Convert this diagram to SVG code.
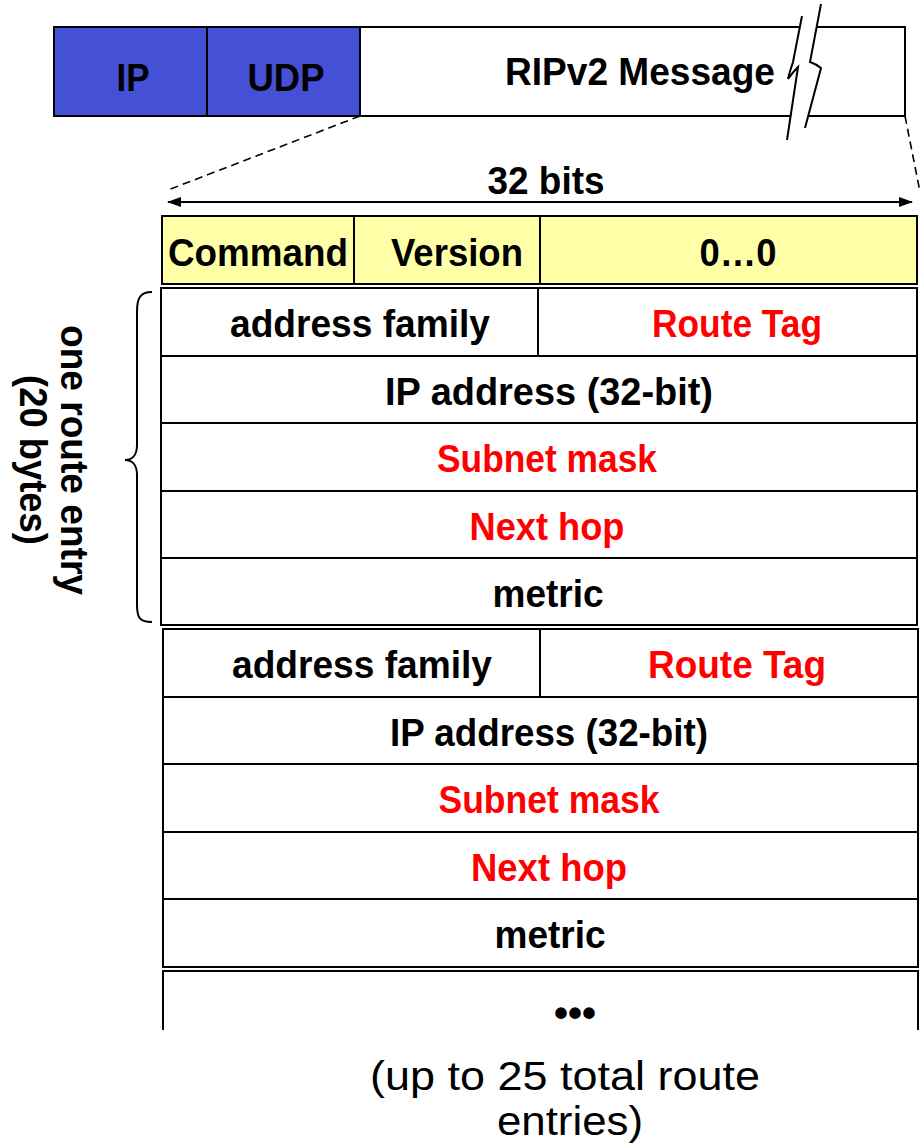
<svg xmlns="http://www.w3.org/2000/svg" width="924" height="1145" viewBox="0 0 924 1145">
<style>
.b{fill:none;stroke:#000;stroke-width:2}
.t{font-family:"Liberation Sans",Arial,sans-serif;font-weight:bold;font-size:38px;text-anchor:middle;fill:#000}
.r{fill:#ff0000}
.n{font-family:"Liberation Sans",Arial,sans-serif;font-size:40px;text-anchor:middle;fill:#000}
.blue{fill:#4450d6;stroke:#000;stroke-width:2}
.yel{fill:#ffffa8;stroke:#000;stroke-width:2}
.dash{fill:none;stroke:#000;stroke-width:1.6;stroke-dasharray:8 5}
</style>
<defs>
<marker id="ah" viewBox="0 0 14 10" refX="13" refY="5" markerWidth="14" markerHeight="10" markerUnits="userSpaceOnUse" orient="auto-start-reverse">
<path d="M0,0 L14,5 L0,10 Z" fill="#000"/>
</marker>
</defs>
<rect width="924" height="1145" fill="#fff"/>

<g id="packet">
<rect x="54" y="27" width="851" height="89" fill="#fff" stroke="#000" stroke-width="2"/>
<rect class="blue" x="54" y="27" width="153" height="89"/>
<rect class="blue" x="207" y="27" width="153" height="89"/>
<text class="t" x="133" y="91" textLength="33" lengthAdjust="spacingAndGlyphs">IP</text>
<text class="t" x="286" y="91" textLength="77" lengthAdjust="spacingAndGlyphs">UDP</text>
<text class="t" x="640" y="85" textLength="270" lengthAdjust="spacingAndGlyphs">RIPv2 Message</text>
</g>

<g id="break">
<path d="M802,16 L793,62 Q789,74 788,79 Q793,72 798,67 L787,140 L805,128 L821,68 Q816,64 810,62 L821,4 Z" fill="#fff"/>
<path class="b" d="M802,16 L793,62 Q789,74 788,79 Q793,72 798,67 L787,140" stroke-width="1.8"/>
<path class="b" d="M821,4 L810,62 Q816,64 821,68 L805,128" stroke-width="1.8"/>
</g>

<g id="connectors">
<line class="dash" x1="360" y1="116" x2="168" y2="190"/>
<line class="dash" x1="905" y1="116" x2="920" y2="192"/>
<line x1="168" y1="202" x2="912" y2="202" stroke="#000" stroke-width="2" marker-start="url(#ah)" marker-end="url(#ah)"/>
</g>
<text class="t" x="546" y="194" textLength="117" lengthAdjust="spacingAndGlyphs">32 bits</text>

<g id="header">
<rect class="yel" x="162" y="216" width="755" height="68"/>
<line class="b" x1="354" y1="216" x2="354" y2="284"/>
<line class="b" x1="540" y1="216" x2="540" y2="284"/>
<text class="t" x="258" y="266" textLength="180" lengthAdjust="spacingAndGlyphs">Command</text>
<text class="t" x="457" y="266" textLength="132" lengthAdjust="spacingAndGlyphs">Version</text>
<text class="t" x="738" y="266" textLength="77" lengthAdjust="spacingAndGlyphs">0…0</text>
</g>

<g id="entry1">
<rect class="b" x="161" y="288" width="756" height="337"/>
<line class="b" x1="161" y1="356" x2="917" y2="356"/>
<line class="b" x1="161" y1="423" x2="917" y2="423"/>
<line class="b" x1="161" y1="491" x2="917" y2="491"/>
<line class="b" x1="161" y1="558" x2="917" y2="558"/>
<line class="b" x1="538" y1="288" x2="538" y2="356"/>
<text class="t" x="360" y="337" textLength="260" lengthAdjust="spacingAndGlyphs">address family</text>
<text class="t r" x="737" y="337" textLength="170" lengthAdjust="spacingAndGlyphs">Route Tag</text>
<text class="t" x="549" y="405" textLength="328" lengthAdjust="spacingAndGlyphs">IP address (32-bit)</text>
<text class="t r" x="547" y="472" textLength="220" lengthAdjust="spacingAndGlyphs">Subnet mask</text>
<text class="t r" x="547" y="540" textLength="155" lengthAdjust="spacingAndGlyphs">Next hop</text>
<text class="t" x="548" y="607" textLength="111" lengthAdjust="spacingAndGlyphs">metric</text>
</g>

<g id="entry2">
<rect class="b" x="163" y="629" width="755" height="338"/>
<line class="b" x1="163" y1="697" x2="918" y2="697"/>
<line class="b" x1="163" y1="764" x2="918" y2="764"/>
<line class="b" x1="163" y1="832" x2="918" y2="832"/>
<line class="b" x1="163" y1="899" x2="918" y2="899"/>
<line class="b" x1="540" y1="629" x2="540" y2="697"/>
<text class="t" x="362" y="678" textLength="260" lengthAdjust="spacingAndGlyphs">address family</text>
<text class="t r" x="737" y="678" textLength="178" lengthAdjust="spacingAndGlyphs">Route Tag</text>
<text class="t" x="549" y="746" textLength="318" lengthAdjust="spacingAndGlyphs">IP address (32-bit)</text>
<text class="t r" x="549" y="813" textLength="221" lengthAdjust="spacingAndGlyphs">Subnet mask</text>
<text class="t r" x="549" y="881" textLength="156" lengthAdjust="spacingAndGlyphs">Next hop</text>
<text class="t" x="550" y="948" textLength="111" lengthAdjust="spacingAndGlyphs">metric</text>
</g>

<g id="entry3">
<polyline class="b" points="163,1030 163,971 918,971 918,1030"/>
<text class="t" x="575" y="1027" style="font-size:40px">•••</text>
</g>

<g id="brace">
<path class="b" d="M152,292 C140,292 137,298 137,312 L137,445 C137,455 132,460 125,460 C132,460 137,465 137,475 L137,605 C137,618 140,622 152,622" stroke-width="1.8"/>
<g transform="translate(61,460) rotate(90)">
<text class="t" x="0" y="0" textLength="270" lengthAdjust="spacingAndGlyphs">one route entry</text>
<text class="t" x="0" y="41" textLength="170" lengthAdjust="spacingAndGlyphs">(20 bytes)</text>
</g>
</g>

<g id="note">
<text class="n" x="565" y="1090" textLength="390" lengthAdjust="spacingAndGlyphs">(up to 25 total route</text>
<text class="n" x="570" y="1135" textLength="146" lengthAdjust="spacingAndGlyphs">entries)</text>
</g>
</svg>
